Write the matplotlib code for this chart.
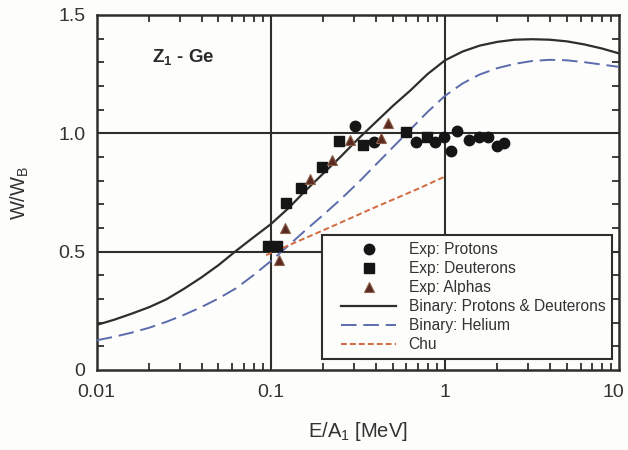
import matplotlib
matplotlib.use("Agg")
import matplotlib.pyplot as plt
import matplotlib.transforms as mtransforms
from matplotlib.lines import Line2D
from matplotlib.legend_handler import HandlerLine2D
from matplotlib.ticker import FixedLocator, NullFormatter

plt.rcParams['font.family'] = ['Liberation Sans', 'DejaVu Sans']
plt.rcParams['mathtext.fontset'] = 'custom'
plt.rcParams['mathtext.rm'] = 'Liberation Sans'
plt.rcParams['mathtext.bf'] = 'Liberation Sans:bold'

# measured points (E/A1 in MeV, W/WB)
prot_x = [0.304, 0.391, 0.681, 0.877, 0.987, 1.079, 1.167, 1.373, 1.568, 1.773, 1.98, 2.18]
prot_y = [1.031, 0.963, 0.961, 0.963, 0.986, 0.923, 1.010, 0.972, 0.986, 0.982, 0.944, 0.958]
deut_x = [0.096, 0.109, 0.1215, 0.1487, 0.1955, 0.246, 0.3396, 0.597, 0.791]
deut_y = [0.524, 0.524, 0.707, 0.770, 0.859, 0.965, 0.951, 1.003, 0.986]
alph_x = [0.1116, 0.1204, 0.1675, 0.2233, 0.2845, 0.429, 0.469]
alph_y = [0.465, 0.599, 0.806, 0.886, 0.972, 0.978, 1.045]

# model curves, tabulated on a common energy grid
curve_x = [0.01, 0.0126, 0.0158, 0.02, 0.0251, 0.0316, 0.0398, 0.0501, 0.0631, 0.0794,
           0.1, 0.126, 0.158, 0.2, 0.251, 0.316, 0.398, 0.501, 0.631, 0.794,
           1.0, 1.26, 1.58, 2.0, 2.51, 3.16, 3.98, 5.01, 6.31, 7.94, 10.0]
bin_pd_y = [0.190, 0.212, 0.237, 0.265, 0.298, 0.342, 0.390, 0.443, 0.503, 0.560,
            0.616, 0.683, 0.757, 0.830, 0.900, 0.975, 1.045, 1.115, 1.180, 1.250,
            1.308, 1.345, 1.370, 1.386, 1.395, 1.397, 1.395, 1.388, 1.375, 1.358, 1.337]
bin_he_y = [0.125, 0.140, 0.157, 0.178, 0.203, 0.232, 0.265, 0.302, 0.345, 0.400,
            0.460, 0.525, 0.590, 0.655, 0.720, 0.790, 0.865, 0.940, 1.015, 1.090,
            1.158, 1.210, 1.248, 1.275, 1.293, 1.305, 1.310, 1.308, 1.300, 1.290, 1.280]
chu_x = [0.094, 0.2, 0.405, 0.7, 1.0]
chu_y = [0.485, 0.59, 0.69, 0.765, 0.817]

ink = '#2e2e2b'
txt = '#333333'
bg = '#fdfdfb'

fig = plt.figure(figsize=(6.28, 4.5), dpi=100)
fig.patch.set_facecolor(bg)
ax = fig.add_axes([0.154, 0.178, 0.832, 0.789])
ax.set_facecolor(bg)

ax.plot(prot_x, prot_y, 'o', color='#151515', ms=7.5, label='Exp: Protons', zorder=5)
ax.plot(deut_x, deut_y, 's', color='#151515', ms=7, label='Exp: Deuterons', zorder=5)
ax.plot(alph_x, alph_y, '^', color='#5a2a22', mec='#8a6048', mew=0.8, ms=7.5, label='Exp: Alphas', zorder=5)
ax.plot(curve_x, bin_pd_y, '-', color=ink, lw=1.6, label='Binary: Protons & Deuterons', zorder=4)
ax.plot(curve_x, bin_he_y, '--', color='#5b6cae', lw=1.4, dashes=(8, 3.5), label='Binary: Helium', zorder=4)
ax.plot(chu_x, chu_y, '--', color='#d2693f', lw=1.4, dashes=(3, 1.6), label='Chu', zorder=4)

ax.set_xscale('log')
ax.set_xlim(0.01, 10)
ax.set_ylim(0, 1.5)

ax.set_xticks([0.01, 0.1, 1, 10])
ax.set_xticklabels(['0.01', '0.1', '1', '10'])
ax.xaxis.set_minor_locator(FixedLocator([m * 10.0 ** e for e in (-2, -1, 0) for m in range(2, 10)]))
ax.xaxis.set_minor_formatter(NullFormatter())
ax.set_yticks([0, 0.5, 1.0, 1.5])
ax.set_yticklabels(['0', '0.5', '1.0', '1.5'])
ax.yaxis.set_minor_locator(FixedLocator([i / 10 for i in range(1, 15)]))

ax.tick_params(which='both', direction='in', top=True, right=True, color=ink, width=1.3)
ax.tick_params(which='major', length=0, labelsize=14, labelcolor=txt)
ax.tick_params(axis='y', which='major', pad=8)
ax.tick_params(axis='x', which='major', pad=10)
ax.tick_params(which='minor', length=5)

# keep the last x label inside the figure
last = ax.get_xticklabels()[-1]
last.set_transform(last.get_transform() + mtransforms.ScaledTranslation(-4 / 72, 0, fig.dpi_scale_trans))

for v in (0.1, 1):
    ax.axvline(v, color=ink, lw=1.5, zorder=2)
for v in (0.5, 1.0):
    ax.axhline(v, color=ink, lw=1.5, zorder=2)
for s in ax.spines.values():
    s.set_linewidth(1.8)
    s.set_color(ink)

ax.set_xlabel('E/A$_1$ [MeV]', fontsize=14.5, color=txt, labelpad=14)
ax.set_ylabel('W/W$_\\mathrm{B}$', fontsize=14.5, color=txt, labelpad=20)

ax.text(0.106, 0.879, 'Z$_\\mathbf{1}$ - Ge', transform=ax.transAxes, fontsize=13.5,
        fontweight='bold', color='#2a2a2a', va='center')

leg = ax.legend(loc='lower right', bbox_to_anchor=(0.9866, 0.030), fontsize=11.2, frameon=True,
                fancybox=False, edgecolor=ink, facecolor=bg, framealpha=1,
                handlelength=4.3, handletextpad=0.8, labelspacing=0.26, borderpad=0.45,
                borderaxespad=0, handler_map={Line2D: HandlerLine2D(xpad=0.75)})
leg.get_frame().set_linewidth(1.5)
for t in leg.get_texts():
    t.set_color(txt)

fig.savefig('out.png', dpi=100, facecolor=fig.get_facecolor())
